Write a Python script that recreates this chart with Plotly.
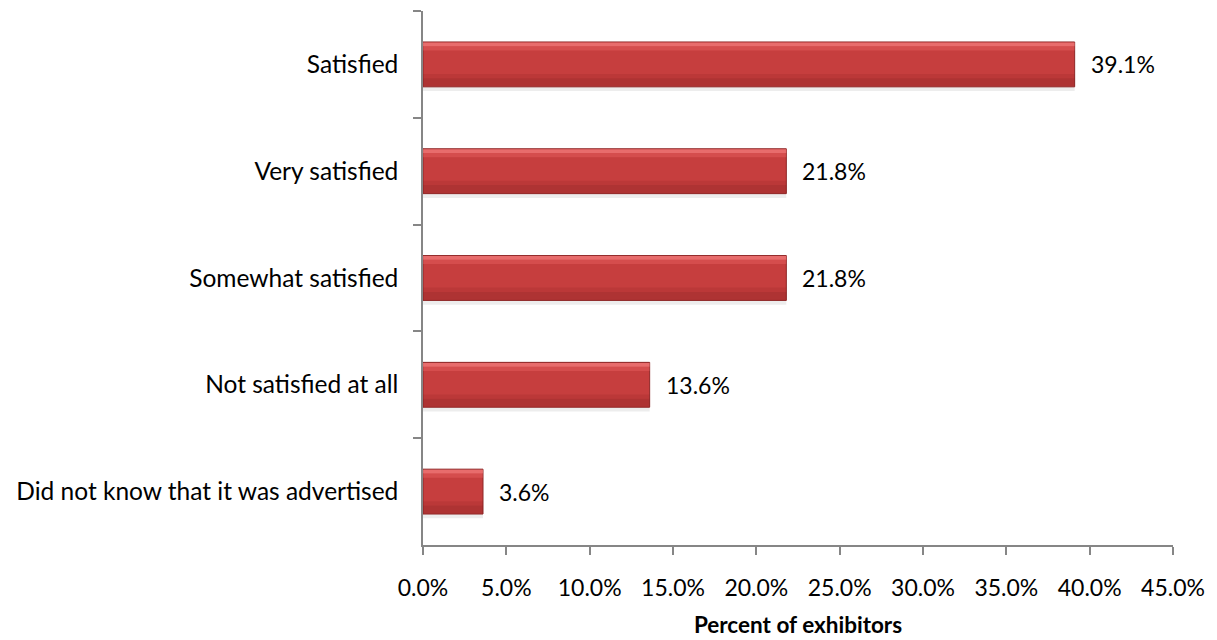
import plotly.graph_objects as go

categories = ["Satisfied", "Very satisfied", "Somewhat satisfied",
              "Not satisfied at all", "Did not know that it was advertised"]
values = [39.1, 21.8, 21.8, 13.6, 3.6]
x_ticks = [0, 5, 10, 15, 20, 25, 30, 35, 40, 45]
x_tick_labels = [f"{t:.1f}%" for t in x_ticks]
value_labels = [f"{v:.1f}%" for v in values]

FONT = "Lato"
AXIS_GREY = "#868686"
BAR_W = 0.42

fig = go.Figure()

# soft drop shadow under each bar (y axis is reversed, so positive offset = lower)
fig.add_trace(go.Bar(
    y=categories, x=values, orientation="h", width=BAR_W, offset=-BAR_W / 2 + 0.04,
    marker=dict(color="rgba(0,0,0,0.07)", line=dict(width=0)),
    hoverinfo="skip", showlegend=False,
))

# main bar body
fig.add_trace(go.Bar(
    y=categories, x=values, orientation="h", width=BAR_W,
    marker=dict(color="#C63E3E", line=dict(color="#8E2626", width=1)),
    showlegend=False,
))

# shading strips giving the bars a rounded, bevelled look (top light -> bottom dark)
strips = [
    (-0.205, 0.035, "rgba(255,140,140,0.60)"),
    (-0.17, 0.04, "rgba(240,105,105,0.35)"),
    (0.09, 0.04, "rgba(130,30,30,0.15)"),
    (0.13, 0.075, "rgba(120,25,25,0.30)"),
]
for off, w, col in strips:
    fig.add_trace(go.Bar(
        y=categories, x=values, orientation="h", width=w, offset=off,
        marker=dict(color=col, line=dict(width=0)),
        hoverinfo="skip", showlegend=False,
    ))

for cat, v, lab in zip(categories, values, value_labels):
    fig.add_annotation(x=v, y=cat, text=lab, showarrow=False, xanchor="left",
                       xshift=14, font=dict(family=FONT, size=23, color="#000000"))

fig.update_layout(
    width=1217, height=640,
    margin=dict(l=423, r=44, t=11, b=95),
    barmode="overlay",
    plot_bgcolor="white", paper_bgcolor="white",
    font=dict(family=FONT, size=23, color="#000000"),
    xaxis=dict(
        range=[0, 45], tickvals=x_ticks, ticktext=x_tick_labels, automargin=False,
        showgrid=False, zeroline=False, showline=True, linecolor=AXIS_GREY, linewidth=1.5,
        ticks="outside", ticklen=8, tickcolor=AXIS_GREY, tickwidth=1.5,
        tickfont=dict(family=FONT, size=23), ticklabelstandoff=14,
        title=dict(text="<b>Percent of exhibitors</b>", font=dict(family=FONT, size=22.5), standoff=17),
    ),
    yaxis=dict(
        categoryorder="array", categoryarray=categories, autorange="reversed", automargin=False,
        showgrid=False, zeroline=False, showline=True, linecolor=AXIS_GREY, linewidth=1.5,
        ticks="outside", ticklen=8, tickcolor=AXIS_GREY, tickwidth=1.5, tickson="boundaries",
        tickfont=dict(family=FONT, size=24.5), ticklabelstandoff=18,
    ),
)

fig.write_html("out.html")
